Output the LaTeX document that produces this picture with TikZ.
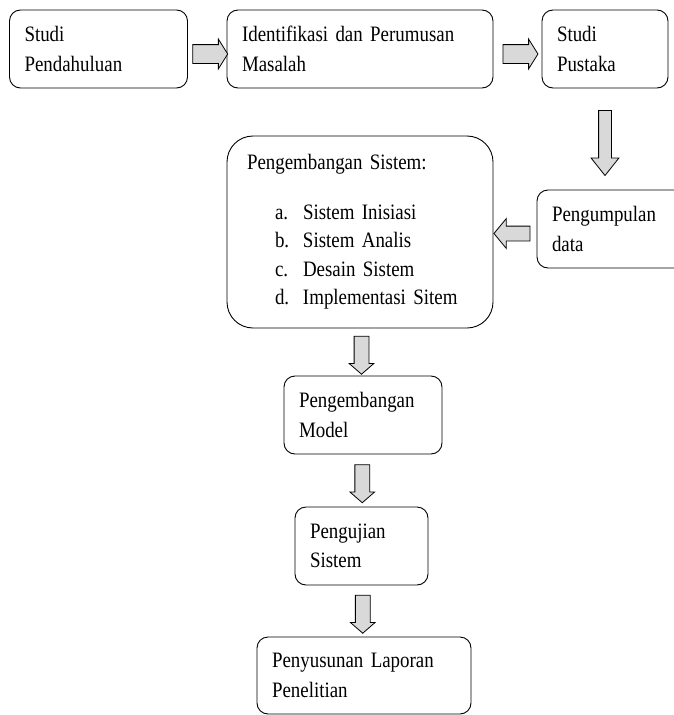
\documentclass[tikz,border=0pt]{standalone}
\usepackage{fontspec}
\setmainfont{Liberation Serif}[FakeStretch=0.86]
\usepackage{tikz}
\usetikzlibrary{calc,shapes.arrows}
\newcommand{\hurufkotak}[1]{\fontsize{22}{#1}\selectfont\spaceskip=4.8pt plus 1pt minus 1pt\relax}
\tikzset{kotak/.style={draw, line width=0.9pt, rounded corners=#1, align=left, inner xsep=15pt, inner ysep=0pt, font=\hurufkotak{29.5}},
%default corner radius is 11pt
kotak/.default={11pt},
panah/.style={single arrow, draw, line width=0.8pt, fill=gray!30, inner sep=#1, single arrow tip angle=100},
panah/.default={7pt}}

\begin{document}
\begin{tikzpicture}[x=1pt, y=-1pt]
        \useasboundingbox (0,0) rectangle (673,715);

        % boxes
        \node[kotak, text width=148pt, minimum height=78pt, inner xsep=15pt] (studi) at (98.5,49) {Studi\\Pendahuluan};
        \node[kotak, text width=236pt, minimum height=78pt] (identifikasi) at (360,49) {Identifikasi dan Perumusan\\Masalah};
        \node[kotak, text width=96pt, minimum height=78pt] (pustaka) at (605,49) {Studi\\Pustaka};
        \node[kotak, text width=123pt, minimum height=78pt] (kumpul) at (613.5,229) {Pengumpulan\\data};
        \node[kotak=26pt, text width=226pt, minimum height=192pt, inner xsep=20pt, font=\hurufkotak{28.5}] (sistem) at (360,232)
            {Pengembangan Sistem:\\[21pt]
             \hspace*{28pt}\makebox[28pt][l]{a.}Sistem Inisiasi\\
             \hspace*{28pt}\makebox[28pt][l]{b.}Sistem Analis\\
             \hspace*{28pt}\makebox[28pt][l]{c.}Desain Sistem\\
             \hspace*{28pt}\makebox[28pt][l]{d.}Implementasi Sitem};
        \node[kotak, text width=128pt, minimum height=78pt] (model) at (363,415) {Pengembangan\\Model};
        \node[kotak, text width=103pt, minimum height=78pt] (uji) at (361.5,546) {Pengujian\\Sistem};
        \node[kotak, text width=184pt, minimum height=77pt] (laporan) at (364,675.5) {Penyusunan Laporan\\Penelitian};

        % arrows
        \node[panah=9pt, minimum height=35pt, single arrow head extend=5.5pt, single arrow tip angle=116] (p1) at ([yshift=-5pt]$(studi.east)!0.5!(identifikasi.west)$) {};
        \node[panah=9pt, minimum height=35pt, single arrow head extend=5.5pt, single arrow tip angle=116] (p2) at ([yshift=-5pt]$(identifikasi.east)!0.5!(pustaka.west)$) {};
        \node[panah=6pt, minimum height=65pt, single arrow head extend=7.5pt, single arrow tip angle=77, shape border rotate=270] (p3) at ($(pustaka.south)!0.5!(pustaka.south |- kumpul.north)$) {};
        \node[panah=7pt, minimum height=36pt, single arrow head extend=7.5pt, single arrow tip angle=101, shape border rotate=180] (p4) at ([yshift=-3pt]$(kumpul.west)!0.5!(sistem.east)$) {};
        \foreach \a/\b/\n in {sistem/model/p5, model/uji/p6, uji/laporan/p7}{
            \node[panah=7pt, minimum height=38pt, single arrow head extend=5pt, single arrow tip angle=98, shape border rotate=270] (\n) at ($(\a.south)!0.5!(\b.north)$) {};
        }

    \end{tikzpicture}
\end{document}
